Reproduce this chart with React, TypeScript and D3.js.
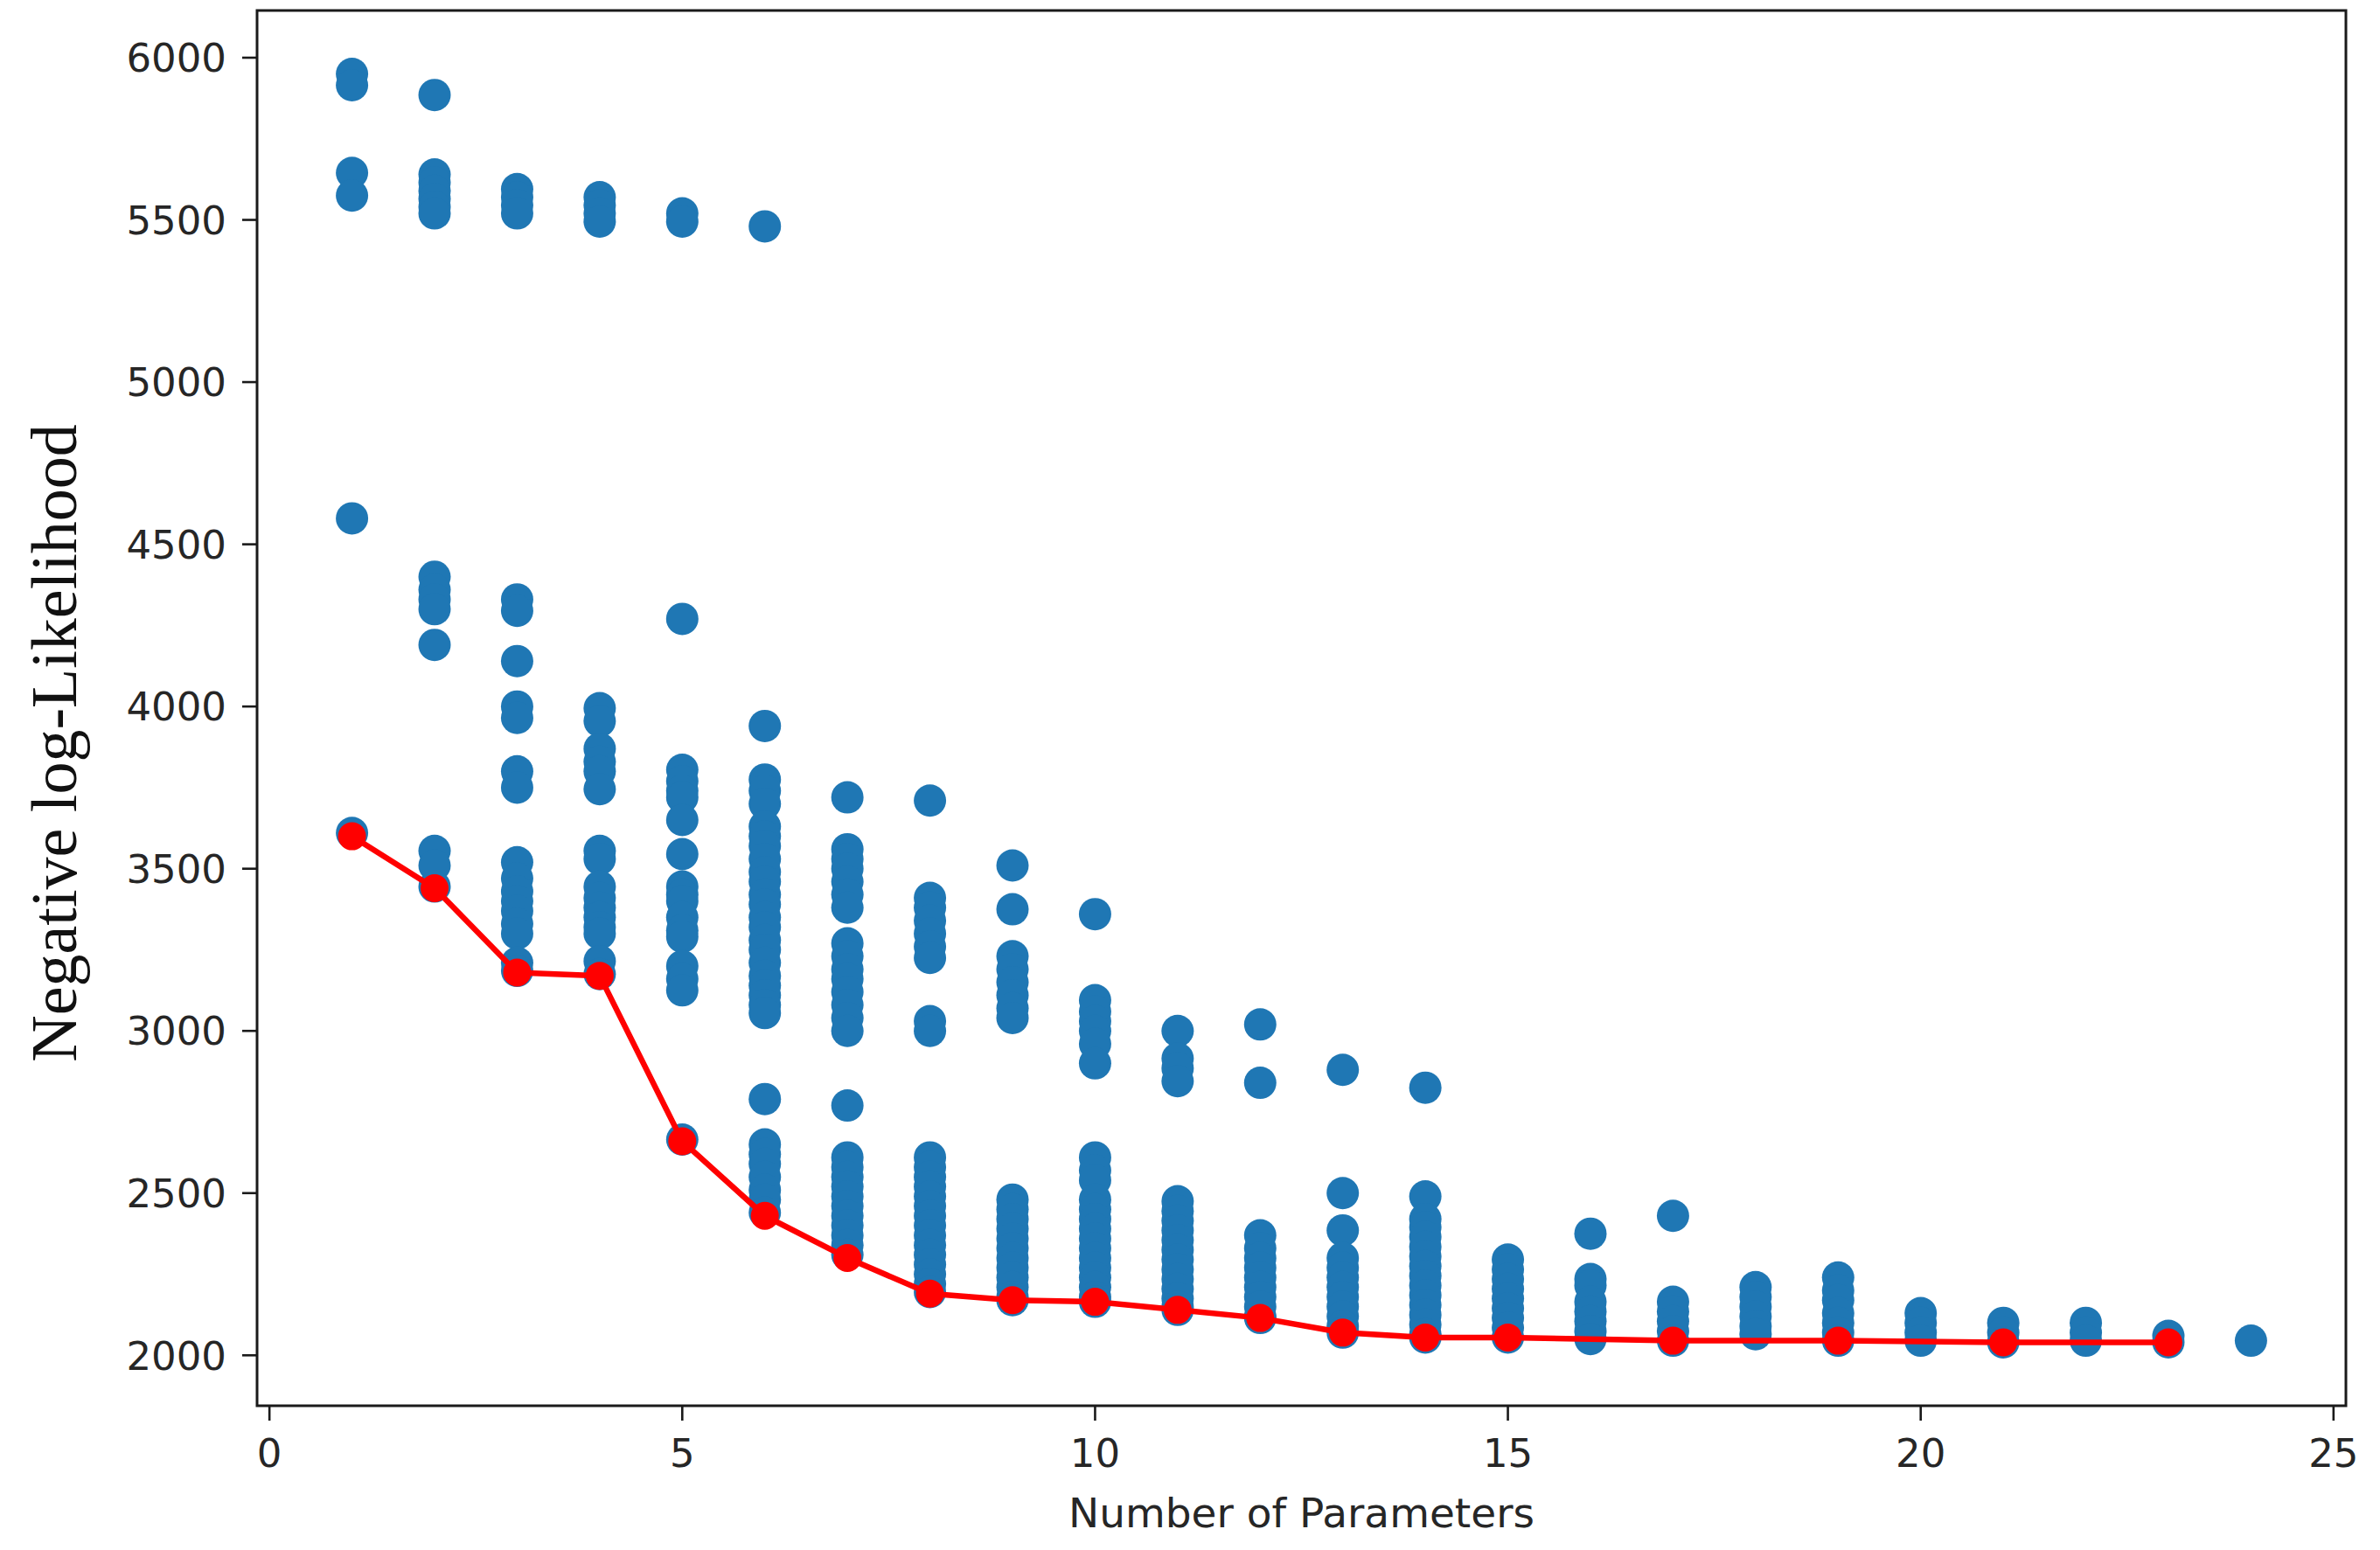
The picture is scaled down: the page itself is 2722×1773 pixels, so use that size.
import * as d3 from 'd3';

// number of parameters on the x axis, one column of fits per value
const nParams = [1, 2, 3, 4, 5, 6, 7, 8, 9, 10, 11, 12, 13, 14, 15, 16, 17, 18, 19, 20, 21, 22, 23, 24];

// negative log-likelihood of every fit, grouped by number of parameters
const nllByParams: number[][] = [
  [5950, 5915, 5645, 5575, 4580, 3610],
  [5885, 5640, 5615, 5590, 5565, 5540, 5520, 4400, 4360, 4330, 4300, 4190, 3555, 3510, 3445],
  [5595, 5570, 5545, 5520, 4330, 4295, 4140, 4000, 3965, 3800, 3750, 3520, 3470, 3430, 3400, 3370, 3330, 3300, 3210, 3185],
  [5570, 5545, 5520, 5495, 3995, 3955, 3870, 3830, 3800, 3745, 3555, 3530, 3445, 3410, 3380, 3350, 3320, 3300, 3215, 3175],
  [5520, 5495, 4270, 3805, 3770, 3740, 3720, 3650, 3545, 3445, 3420, 3400, 3350, 3310, 3290, 3200, 3160, 3125, 2665],
  [5480, 3940, 3775, 3740, 3700, 3630, 3600, 3570, 3530, 3490, 3460, 3420, 3390, 3350, 3320, 3280, 3250, 3210, 3170, 3140, 3110, 3080, 3055, 2790, 2650, 2620, 2590, 2550, 2510, 2480, 2440],
  [3720, 3560, 3530, 3500, 3460, 3420, 3380, 3270, 3230, 3190, 3160, 3120, 3080, 3040, 3000, 2770, 2610, 2580, 2550, 2520, 2490, 2460, 2430, 2400, 2370, 2340, 2310],
  [3710, 3410, 3380, 3340, 3300, 3260, 3225, 3030, 3000, 2610, 2580, 2550, 2520, 2490, 2460, 2430, 2400, 2370, 2340, 2310, 2280, 2250, 2220, 2195],
  [3510, 3375, 3230, 3190, 3150, 3110, 3070, 3040, 2480, 2450, 2420, 2390, 2360, 2330, 2300, 2270, 2240, 2210, 2180, 2170],
  [3360, 3095, 3060, 3030, 3000, 2960, 2900, 2610, 2570, 2540, 2480, 2450, 2420, 2390, 2360, 2330, 2300, 2270, 2240, 2210, 2180, 2165],
  [3000, 2915, 2885, 2845, 2475, 2445, 2415, 2385, 2355, 2325, 2295, 2265, 2235, 2205, 2175, 2150, 2140],
  [3020, 2840, 2370, 2330, 2300, 2270, 2240, 2210, 2180, 2150, 2120, 2115],
  [2880, 2500, 2385, 2300, 2270, 2240, 2210, 2180, 2150, 2120, 2090, 2070],
  [2825, 2490, 2420, 2395, 2365, 2335, 2305, 2275, 2245, 2215, 2185, 2155, 2125, 2095, 2065, 2055],
  [2295, 2265, 2235, 2205, 2175, 2145, 2115, 2085, 2055],
  [2375, 2235, 2215, 2165, 2135, 2105, 2075, 2050],
  [2430, 2165, 2135, 2105, 2075, 2045],
  [2210, 2180, 2150, 2120, 2090, 2065],
  [2240, 2200, 2170, 2130, 2100, 2070, 2045],
  [2130, 2100, 2070, 2045],
  [2100, 2070, 2040],
  [2100, 2070, 2045],
  [2060, 2040],
  [2045],
];

// best fit (lowest NLL) frontier drawn in red
const bestX = [1, 2, 3, 4, 5, 6, 7, 8, 9, 10, 11, 12, 13, 14, 15, 17, 19, 21, 23];
const bestNll = [3600, 3440, 3180, 3170, 2660, 2430, 2300, 2190, 2170, 2165, 2140, 2115, 2070, 2055, 2055, 2045, 2045, 2040, 2040];

const xTicks = [0, 5, 10, 15, 20, 25];
const yTicks = [2000, 2500, 3000, 3500, 4000, 4500, 5000, 5500, 6000];

const W = 2722;
const H = 1773;
const plot = { left: 294, right: 2683, top: 12, bottom: 1608 };

export default function App() {
  const points = nParams.flatMap((p, i) => nllByParams[i].map(v => ({ p, v })));

  const [xMin, xMax] = d3.extent(points, d => d.p) as [number, number];
  const [yMin, yMax] = d3.extent(points, d => d.v) as [number, number];
  const xPad = (xMax - xMin) * 0.05;
  const yPad = (yMax - yMin) * 0.05;

  const x = d3.scaleLinear().domain([xMin - xPad, xMax + xPad]).range([plot.left, plot.right]);
  const y = d3.scaleLinear().domain([yMin - yPad, yMax + yPad]).range([plot.bottom, plot.top]);

  const best = bestX.map((p, i) => ({ p, v: bestNll[i] }));
  const line = d3.line<{ p: number; v: number }>().x(d => x(d.p)).y(d => y(d.v));

  const tickFont = { fontFamily: 'DejaVu Sans', fontSize: 45, fill: '#262626' };

  return (
    <div style={{ position: 'absolute', left: 0, top: 0 }}>
      <svg width={W} height={H} viewBox={`0 0 ${W} ${H}`} style={{ display: 'block', background: '#fff' }}>
        <rect x={0} y={0} width={W} height={H} fill="#fff" />

        {/* scatter of all fits */}
        <g>
          {points.map((d, i) => (
            <circle key={i} cx={x(d.p)} cy={y(d.v)} r={18.5} fill="#1f77b4" />
          ))}
        </g>

        {/* best fit frontier */}
        <path d={line(best) ?? ''} fill="none" stroke="#ff0000" strokeWidth={6.5} strokeLinejoin="round" />
        <g>
          {best.map((d, i) => (
            <circle key={i} cx={x(d.p)} cy={y(d.v)} r={16} fill="#ff0000" />
          ))}
        </g>

        {/* frame */}
        <rect
          x={plot.left}
          y={plot.top}
          width={plot.right - plot.left}
          height={plot.bottom - plot.top}
          fill="none"
          stroke="#1a1a1a"
          strokeWidth={3}
        />

        {/* x axis */}
        {xTicks.map(t => (
          <g key={t} transform={`translate(${x(t)},${plot.bottom})`}>
            <line y1={0} y2={17} stroke="#1a1a1a" strokeWidth={2.6} />
            <text y={70} textAnchor="middle" {...tickFont}>{t}</text>
          </g>
        ))}

        {/* y axis */}
        {yTicks.map(t => (
          <g key={t} transform={`translate(${plot.left},${y(t)})`}>
            <line x1={0} x2={-17} stroke="#1a1a1a" strokeWidth={2.6} />
            <text x={-35} dy="0.36em" textAnchor="end" {...tickFont}>{t}</text>
          </g>
        ))}

        <text x={(plot.left + plot.right) / 2} y={1747} textAnchor="middle" {...tickFont} fontSize={47}>
          Number of Parameters
        </text>

        <text
          transform={`translate(87,${(plot.top + plot.bottom) / 2 + 40}) rotate(-90)`}
          textAnchor="middle"
          fontFamily="Liberation Serif"
          fontSize={74}
          fill="#111"
        >
          Negative log-Likelihood
        </text>
      </svg>
    </div>
  );
}
